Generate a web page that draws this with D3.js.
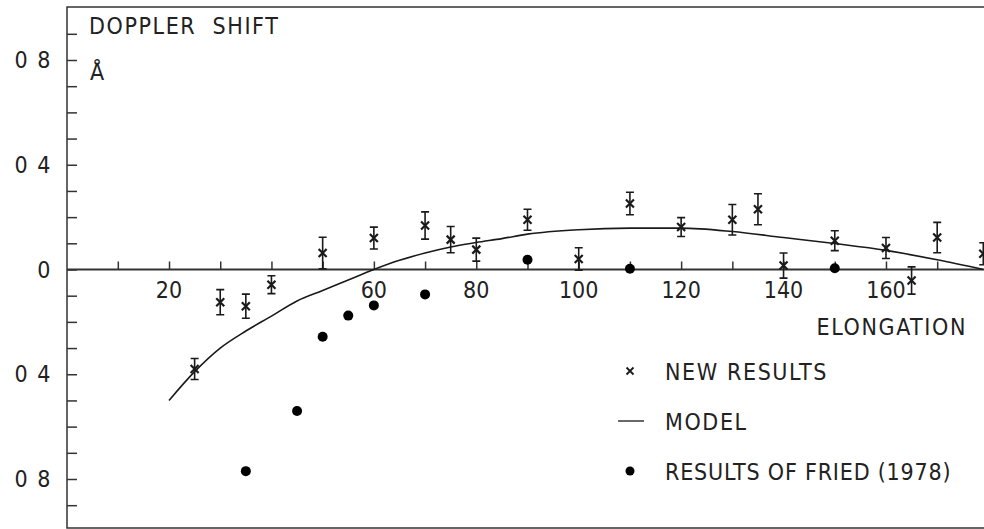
<!DOCTYPE html>
<html>
<head>
<meta charset="utf-8">
<script src="https://cdn.jsdelivr.net/npm/d3@7"></script>
<style>
  body { margin: 0; background: #fff; }
  text { font-family: "DejaVu Sans Condensed", "DejaVu Sans", sans-serif; fill: #222; font-size: 23px; }
  .wide { letter-spacing: 1.6px; }
</style>
</head>
<body>
<script>
'use strict';

// elongation (deg) and doppler shift (Å)
var newDeg = [25, 30, 35, 40, 50, 60, 70, 75, 80, 90, 100, 110, 120, 130, 135, 140, 150, 160, 165, 170, 179];
var newVal = [-0.38, -0.125, -0.14, -0.058, 0.063, 0.12, 0.168, 0.114, 0.076, 0.19, 0.04, 0.252, 0.162, 0.19, 0.23, 0.015, 0.11, 0.082, -0.042, 0.122, 0.06];
var newErr = [0.04, 0.048, 0.046, 0.034, 0.06, 0.042, 0.052, 0.05, 0.044, 0.04, 0.043, 0.043, 0.036, 0.058, 0.059, 0.048, 0.038, 0.04, 0.052, 0.058, 0.042];

var friedDeg = [35, 45, 50, 55, 60, 70, 90, 110, 150];
var friedVal = [-0.77, -0.54, -0.257, -0.176, -0.137, -0.095, 0.037, 0.003, 0.005];

var modelDeg = [20, 25, 30, 35, 40, 45, 50, 55, 60, 65, 70, 75, 80, 85, 90, 100, 110, 120, 130, 140, 150, 160, 170, 179];
var modelVal = [-0.50, -0.39, -0.30, -0.235, -0.178, -0.12, -0.08, -0.04, 0.0, 0.035, 0.063, 0.086, 0.103, 0.118, 0.135, 0.152, 0.158, 0.158, 0.145, 0.122, 0.099, 0.073, 0.037, 0.0];

var xTicks = d3.range(10, 180, 10);
var xLabels = [20, 60, 80, 100, 120, 140, 160];
var yTicks = d3.range(-9, 10).map(function (d) { return d / 10; });
var yLabels = [0.8, 0.4, 0, -0.4, -0.8];
var legendItems = ['NEW RESULTS', 'MODEL', 'RESULTS OF FRIED (1978)'];

var width = 984;
var height = 529;
var ink = '#1a1a1a';

var x = d3.scaleLinear().domain([0, 180]).range([66.6, 988.4]);
var y = d3.scaleLinear().domain([-0.8, 0.8]).range([479, 60]);

var svg = d3.select('body')
    .append('svg')
    .attr('width', width)
    .attr('height', height)
    ;

// frame
svg.append('rect')
    .attr('x', 67).attr('y', 7)
    .attr('width', 930).attr('height', 521)
    .attr('fill', 'none')
    .attr('stroke', '#333')
    .attr('stroke-width', 1.5)
    ;

// y ticks on the left edge
svg.append('g')
    .attr('transform', 'translate(67,0)')
    .call(d3.axisRight(y).tickValues(yTicks).tickSize(10).tickFormat(''))
    .call(function (g) { g.select('.domain').remove(); })
    .selectAll('line').attr('stroke', '#333').attr('stroke-width', 1.5)
    ;

svg.selectAll('text.ylab')
    .data(yLabels)
    .enter()
    .append('text')
    .attr('class', 'ylab')
    .attr('x', 52)
    .attr('y', function (d) { return y(d) + 8; })
    .attr('text-anchor', 'end')
    .style('letter-spacing', '1.5px')
    .text(function (d) { return d === 0 ? '0' : '0 ' + Math.round(Math.abs(d) * 10); })
    ;

// zero line with elongation ticks
var xAxis = svg.append('g')
    .attr('transform', 'translate(0,' + y(0) + ')')
    .call(d3.axisTop(x).tickValues(xTicks).tickSize(8).tickFormat('').tickSizeOuter(0))
    ;
xAxis.select('.domain').attr('stroke', '#333').attr('stroke-width', 2).attr('d', 'M67,0H990');
xAxis.selectAll('line').attr('stroke', '#333').attr('stroke-width', 1.5);

svg.selectAll('text.xlab')
    .data(xLabels)
    .enter()
    .append('text')
    .attr('class', 'xlab')
    .attr('x', function (d) { return x(d); })
    .attr('y', y(0) + 28)
    .attr('text-anchor', 'middle')
    .text(String)
    ;

// titles
svg.append('text').attr('class', 'wide').attr('x', 89).attr('y', 34)
    .style('word-spacing', '8px').text('DOPPLER SHIFT');
svg.append('text').attr('x', 90).attr('y', 80).text('\u00c5');
svg.append('text').attr('class', 'wide').attr('x', 967).attr('y', 335)
    .attr('text-anchor', 'end').text('ELONGATION');

// model curve
var line = d3.line()
    .x(function (d, i) { return x(modelDeg[i]); })
    .y(function (d) { return y(d); })
    .curve(d3.curveMonotoneX)
    ;

svg.append('path')
    .attr('d', line(modelVal))
    .attr('fill', 'none')
    .attr('stroke', ink)
    .attr('stroke-width', 1.6)
    ;

// Fried (1978) results
svg.selectAll('circle.fried')
    .data(friedVal)
    .enter()
    .append('circle')
    .attr('class', 'fried')
    .attr('cx', function (d, i) { return x(friedDeg[i]); })
    .attr('cy', y)
    .attr('r', 5)
    .attr('fill', '#000')
    ;

// new results with error bars
var pts = svg.selectAll('g.newres')
    .data(newVal)
    .enter()
    .append('g')
    .attr('class', 'newres')
    .attr('transform', function (d, i) { return 'translate(' + x(newDeg[i]) + ',0)'; })
    .attr('stroke', ink)
    .attr('stroke-width', 1.6)
    .attr('fill', 'none')
    ;

pts.append('path')
    .attr('d', function (d, i) {
        var t = y(d + newErr[i]), b = y(d - newErr[i]);
        return 'M-4,' + t + 'H4M0,' + t + 'V' + b + 'M-4,' + b + 'H4';
    })
    ;

pts.append('path')
    .attr('d', function (d) {
        var c = y(d);
        return 'M-4,' + (c - 4) + 'L4,' + (c + 4) + 'M-4,' + (c + 4) + 'L4,' + (c - 4);
    })
    .attr('stroke-width', 2.2)
    ;

// legend
var legend = svg.selectAll('g.legend')
    .data(legendItems)
    .enter()
    .append('g')
    .attr('class', 'legend')
    .attr('transform', function (d, i) { return 'translate(0,' + (371 + i * 50) + ')'; })
    ;

legend.append('text')
    .attr('x', 665)
    .attr('y', 9)
    .style('letter-spacing', function (d, i) { return i === 2 ? '0.8px' : '1.6px'; })
    .text(String)
    ;

legend.filter(function (d, i) { return i === 0; })
    .append('path')
    .attr('d', 'M626.5,-3.5L633.5,3.5M626.5,3.5L633.5,-3.5')
    .attr('stroke', ink)
    .attr('stroke-width', 1.8)
    ;

legend.filter(function (d, i) { return i === 1; })
    .append('line')
    .attr('x1', 618).attr('x2', 644)
    .attr('y1', 0).attr('y2', 0)
    .attr('stroke', '#444')
    .attr('stroke-width', 1.6)
    ;

legend.filter(function (d, i) { return i === 2; })
    .append('circle')
    .attr('cx', 630).attr('cy', 0)
    .attr('r', 4.5)
    .attr('fill', '#000')
    ;
</script>
</body>
</html>
